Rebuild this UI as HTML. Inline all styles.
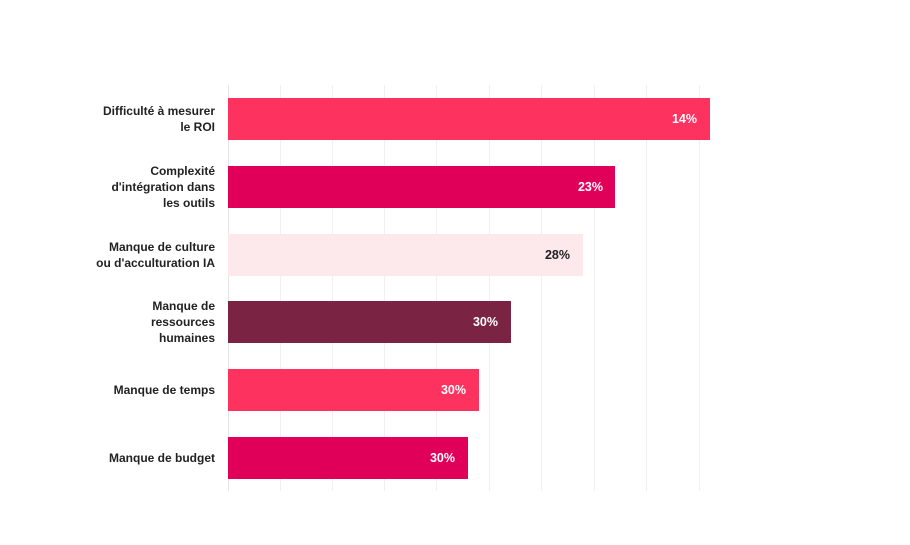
<!DOCTYPE html>
<html><head><style>
body{margin:0;width:910px;height:545px;background:#fff;font-family:"Liberation Sans",sans-serif;position:relative;overflow:hidden}
.g{position:absolute;top:85px;height:406px;width:1px;background:#f0f0f0}
.b{position:absolute;left:228px;height:42px}
.v{position:absolute;font-size:12.5px;font-weight:bold;color:#fff;text-align:right}
.l{position:absolute;right:695px;font-size:12px;font-weight:bold;color:#222;text-align:right;line-height:16px;display:flex;align-items:center;justify-content:flex-end;height:42px;white-space:nowrap}
</style></head><body>
<div class="g" style="left:228px;background:#e4e4e4"></div>
<div class="g" style="left:280px"></div>
<div class="g" style="left:332px"></div>
<div class="g" style="left:384px"></div>
<div class="g" style="left:436px"></div>
<div class="g" style="left:489px"></div>
<div class="g" style="left:541px"></div>
<div class="g" style="left:594px"></div>
<div class="g" style="left:646px"></div>
<div class="g" style="left:699px"></div>

<div class="b" style="top:98px;width:482px;background:#fe325f"></div>
<div class="b" style="top:166px;width:387px;background:#e0005a"></div>
<div class="b" style="top:234px;width:355px;background:#fde8ec"></div>
<div class="b" style="top:301px;width:283px;background:#7b2343"></div>
<div class="b" style="top:369px;width:251px;background:#fe325f"></div>
<div class="b" style="top:437px;width:240px;background:#e0005a"></div>

<div class="v" style="left:661px;top:112px;width:36px">14%</div>
<div class="v" style="left:567px;top:180px;width:36px">23%</div>
<div class="v" style="left:534px;top:248px;width:36px;color:#222">28%</div>
<div class="v" style="left:462px;top:315px;width:36px">30%</div>
<div class="v" style="left:430px;top:383px;width:36px">30%</div>
<div class="v" style="left:419px;top:451px;width:36px">30%</div>

<div class="l" style="top:98px">Difficulté à mesurer<br>le ROI</div>
<div class="l" style="top:166px">Complexité<br>d'intégration dans<br>les outils</div>
<div class="l" style="top:234px">Manque de culture<br>ou d'acculturation IA</div>
<div class="l" style="top:301px">Manque de<br>ressources<br>humaines</div>
<div class="l" style="top:369px">Manque de temps</div>
<div class="l" style="top:437px">Manque de budget</div>
</body></html>
